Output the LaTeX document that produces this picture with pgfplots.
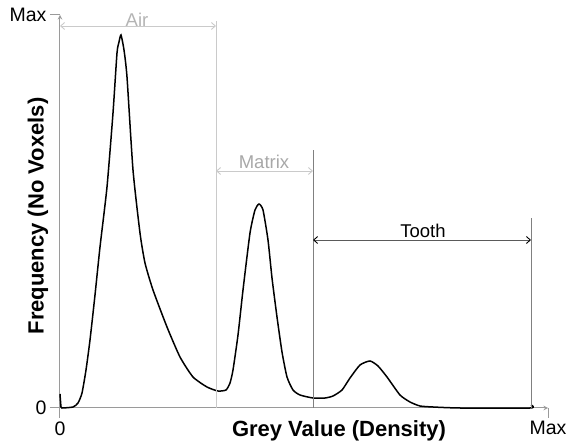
\documentclass[border=0pt]{standalone}
\usepackage{pgfplots}
\pgfplotsset{compat=1.18}
\usepackage{fontspec}
\setmainfont{Liberation Sans}
\usetikzlibrary{arrows.meta}
\definecolor{axisgrey}{HTML}{9A9A9A}
\definecolor{lightline}{HTML}{CACACA}
\definecolor{airtext}{HTML}{B4B4B4}
\definecolor{matrixtext}{HTML}{A8A8A8}
\definecolor{darkline}{HTML}{808080}
\definecolor{toothline}{HTML}{5A5A5A}
\begin{document}
\begin{tikzpicture}
\useasboundingbox (-60pt,-38pt) rectangle (509pt,408pt);
\begin{axis}[
  scale only axis, width=488pt, height=393pt,
  at={(0pt,0pt)}, anchor=south west,
  xmin=0, xmax=488, ymin=0, ymax=393,
  clip=false,
  axis x line=bottom, axis y line=left,
  xtick={0,488}, xticklabels={0,Max},
  ytick={0,393}, yticklabels={0,Max},
  tick align=outside, major tick length=10pt,
  axis line style={axisgrey, line width=1pt},
  tick style={axisgrey, line width=1pt},
  tick label style={font=\fontsize{19.5}{21}\selectfont, text=black},
  /pgf/number format/assume math mode=true,
]
\addplot[black, line width=1.5pt, smooth, tension=0.35] coordinates {
(0,14)(1,1)(2,0)(13,1)(18,5)(22,15)(26,38)(30,68)(35,113)(40,161)(47,221)
(53,295)(57,355)(59,366)(61,373)(64,358)(67,331)(73,238)(80,175)(85,145)
(93,118)(107,81)(120,51)(133,31)(147,21)(158,17)(166,18)(170,25)(173,38)
(178,73)(183,118)(190,175)(195,198)(199,204)(203,198)(208,168)(212,130)
(217,91)(222,56)(227,31)(233,18)(240,13)(253,10)(265,10)(273,12)(282,18)
(290,30)(300,43)(310,47)(318,42)(327,31)(340,13)(350,6)(360,2)(373,1)
(400,0)(470,0)(471,3)
};
% region boundaries
\addplot[lightline, line width=0.9pt] coordinates {(156,0)(156,387)};
\addplot[darkline, line width=0.9pt] coordinates {(253,0)(253,258)};
\addplot[darkline, line width=0.9pt] coordinates {(471,0)(471,190)};
% arrows
\draw[lightline, line width=0.9pt, {Straight Barb[length=4pt,width=7pt]}-{Straight Barb[length=4pt,width=7pt]}]
  (axis cs:0,382) -- (axis cs:156,382);
\draw[lightline, line width=0.9pt, {Straight Barb[length=4pt,width=7pt]}-{Straight Barb[length=4pt,width=7pt]}]
  (axis cs:156,237) -- (axis cs:253,237);
\draw[toothline, line width=0.9pt, {Straight Barb[length=4pt,width=7pt,color=black]}-{Straight Barb[length=4pt,width=7pt,color=black]}]
  (axis cs:253,168) -- (axis cs:471,168);
\node[text=airtext, font=\fontsize{18.5}{20}\selectfont] at (axis cs:77,388) {Air};
\node[text=matrixtext, font=\fontsize{18.5}{20}\selectfont] at (axis cs:204,246) {Matrix};
\node[text=black, font=\fontsize{18.5}{20}\selectfont] at (axis cs:363,177) {Tooth};
% axis labels
\node[font=\fontsize{22}{24}\selectfont\bfseries] at (axis cs:279,-23) {Grey Value (Density)};
\node[font=\fontsize{22}{24}\selectfont\bfseries, rotate=90] at (axis cs:-22,192) {Frequency (No Voxels)};
\end{axis}
\end{tikzpicture}
\end{document}
